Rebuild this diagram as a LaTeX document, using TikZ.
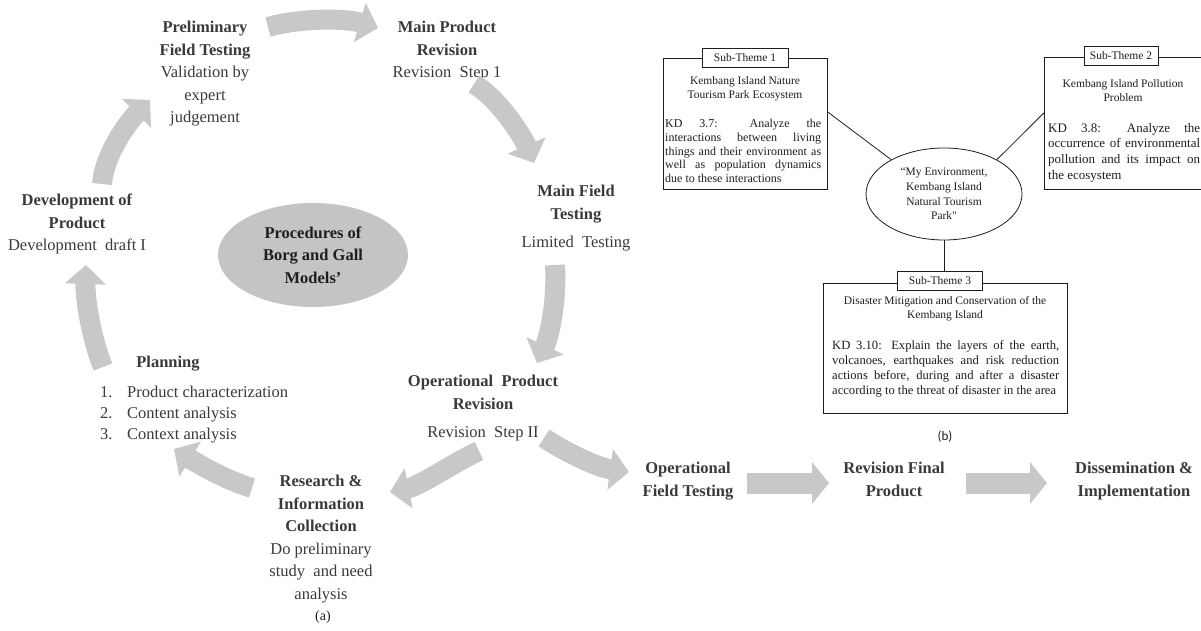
\documentclass[tikz,border=0pt]{standalone}
\usepackage{fontspec}
\setmainfont{Liberation Serif}
\newfontfamily\carlito{Carlito}
\newfontfamily\plainq[Ligatures=TeXOff]{Liberation Serif}
\usetikzlibrary{arrows.meta,shapes.geometric,calc}
\definecolor{arr}{RGB}{200,200,200}
\definecolor{ellg}{RGB}{196,196,196}
\definecolor{txt}{RGB}{58,58,58}
\definecolor{btxt}{RGB}{30,30,30}
\tikzset{
  stage/.style={align=center, inner sep=0pt, anchor=north, text=txt,
    font=\fontsize{16.5}{22.5}\selectfont},
  blockarrow/.style={draw=arr, line width=20pt, -{Triangle[width=40pt,length=19pt]}},
  flatarrow/.style={draw=arr, line width=21pt, -{Triangle[width=41pt,length=17pt]}},
  themebox/.style={draw=btxt, line width=0.8pt, anchor=north west, inner sep=0pt},
  themelabel/.style={draw=btxt, fill=white, line width=0.8pt, text=btxt,
    font=\fontsize{11.5}{13}\selectfont, inner sep=0pt, minimum height=19pt},
  boxtitle/.style={align=center, inner sep=0pt, text=btxt, font=\fontsize{11.5}{14}\selectfont},
  boxbody/.style={align=justify, inner sep=0pt, anchor=north west, text=btxt},
  conn/.style={draw=btxt, line width=0.8pt},
}
\begin{document}
\begin{tikzpicture}[x=1pt,y=-1pt]
\useasboundingbox (0,0) rectangle (1201,631);
\fill[white] (0,0) rectangle (1201,631);

% ---------- panel (a): cycle ----------
\node[ellipse, fill=ellg, minimum width=190pt, minimum height=104pt, inner sep=0pt,
  align=center, text=btxt, font=\bfseries\fontsize{16.5}{22.5}\selectfont] (core) at (313,255)
  {Procedures of\\Borg and Gall\\Models’};

\node[stage] (prelim) at (205,21) {\textbf{Preliminary}\\\textbf{Field Testing}\\Validation by\\expert\\judgement};
\node[stage] (mainrev) at (447,21) {\textbf{Main Product}\\\textbf{Revision}\\Revision\ \ Step 1};
\node[stage] (mainfield) at (576,185) {\textbf{Main Field}\\\textbf{Testing}\\[6pt]Limited\ \ Testing};
\node[stage] (oprev) at (483,375) {\textbf{Operational\ \ Product}\\\textbf{Revision}\\[6pt]Revision\ \ Step II};
\node[stage] (research) at (321,475) {\textbf{Research \&}\\\textbf{Information}\\\textbf{Collection}\\Do preliminary\\study\ \ and need\\analysis};
\node[stage] (dev) at (77,194) {\textbf{Development of}\\\textbf{Product}\\Development\ \ draft I};
\node[stage] (plan) at (168,356) {\textbf{Planning}};
\node[stage, anchor=north west, align=left, font=\fontsize{16.5}{21}\selectfont] (planlist) at (100,386)
  {\makebox[27pt][l]{1.}Product characterization\\\makebox[27pt][l]{2.}Content analysis\\\makebox[27pt][l]{3.}Context analysis};
\node[stage] (opfield) at (688,462) {\textbf{Operational}\\\textbf{Field Testing}};
\node[stage] (final) at (894,462) {\textbf{Revision Final}\\\textbf{Product}};
\node[stage] (dissem) at (1134,462) {\textbf{Dissemination \&}\\\textbf{Implementation}};
\node[text=btxt, font=\fontsize{14}{16}\selectfont, inner sep=0pt] (capa) at (323,617) {(a)};

% arrow end points
\coordinate (a1s) at (102,184); \coordinate (a1e) at (150,100);
\coordinate (a2s) at (268,27);  \coordinate (a2e) at (378,28);
\coordinate (a3s) at (474,84);  \coordinate (a3e) at (534,163);
\coordinate (a4s) at (555,265); \coordinate (a4e) at (537,363);
\coordinate (a5s) at (479,451); \coordinate (a5e) at (390,492);
\coordinate (a6s) at (544,438); \coordinate (a6e) at (629,472);
\coordinate (a7s) at (252,488); \coordinate (a7e) at (174,449);
\coordinate (a8s) at (103,367); \coordinate (a8e) at (86,265);
\coordinate (b1s) at (747,483); \coordinate (b1e) at (829,483);
\coordinate (b2s) at (966,483); \coordinate (b2e) at (1047,483);

\draw[blockarrow] (a1s) .. controls (104,155) and (128,122) .. (a1e);
\draw[blockarrow] (a2s) .. controls (300,18) and (345,18) .. (a2e);
\draw[blockarrow] (a3s) .. controls (498,98) and (522,135) .. (a3e);
\draw[blockarrow] (a4s) .. controls (557,300) and (550,335) .. (a4e);
\draw[blockarrow] (a5s) .. controls (455,462) and (420,486) .. (a5e);
\draw[blockarrow] (a6s) .. controls (570,455) and (600,468) .. (a6e);
\draw[blockarrow] (a7s) .. controls (225,480) and (195,462) .. (a7e);
\draw[blockarrow] (a8s) .. controls (90,335) and (85,295) .. (a8e);
\draw[flatarrow] (b1s) -- (b1e);
\draw[flatarrow] (b2s) -- (b2e);

% ---------- panel (b) ----------
\node[themebox, minimum width=164pt, minimum height=131pt] (box1) at (663,58) {};
\node[themebox, minimum width=162pt, minimum height=132pt] (box2) at (1044,57) {};
\node[themebox, minimum width=244pt, minimum height=130pt] (box3) at (823,283) {};

\node[ellipse, draw=btxt, line width=0.8pt, minimum width=156pt, minimum height=92pt, inner sep=0pt,
  align=center, text=btxt, font=\fontsize{11.5}{14.7}\selectfont] (theme) at (944,194)
  {“My Environment,\\Kembang Island\\Natural Tourism\\Park{\plainq "}};

\node[themelabel, minimum width=86pt] (lab1) at (745,57.5) {Sub-Theme 1};
\node[themelabel, minimum width=74pt] (lab2) at (1121,56) {Sub-Theme 2};
\node[themelabel, minimum width=85pt] (lab3) at (940,280.5) {Sub-Theme 3};

\node[boxtitle] (t1) at (745,89) {Kembang Island Nature\\Tourism Park Ecosystem};
\node[boxtitle] (t2) at (1123,91) {Kembang Island Pollution\\Problem};
\node[boxtitle] (t3) at (945,309) {Disaster Mitigation and Conservation of the\\Kembang Island};

\node[boxbody, text width=156pt, font=\fontsize{12}{13.8}\selectfont] (k1) at (665,119)
  {KD 3.7: Analyze the\linebreak interactions between living\linebreak things and their environment as\linebreak well as population dynamics\linebreak due to these interactions};
\node[boxbody, text width=152pt, font=\fontsize{13}{15.6}\selectfont] (k2) at (1048,123)
  {KD 3.8: Analyze the\linebreak occurrence of environmental\linebreak pollution and its impact on\linebreak the ecosystem};
\node[boxbody, text width=227pt, font=\fontsize{12.6}{15.3}\selectfont] (k3) at (832,340)
  {KD 3.10: Explain the layers of the earth,\linebreak volcanoes, earthquakes and risk reduction\linebreak actions before, during and after a disaster\linebreak according to the threat of disaster in the area};

\draw[conn] ($(box1.north east)!0.41!(box1.south east)$) -- (theme.147);
\draw[conn] ($(box2.north west)!0.42!(box2.south west)$) -- (theme.33);
\draw[conn] (theme.south) -- (theme.south |- lab3.north);

\node[text=btxt, font=\carlito\fontsize{13}{15}\selectfont, inner sep=0pt] (capb) at (945,437) {(b)};
\end{tikzpicture}
\end{document}
